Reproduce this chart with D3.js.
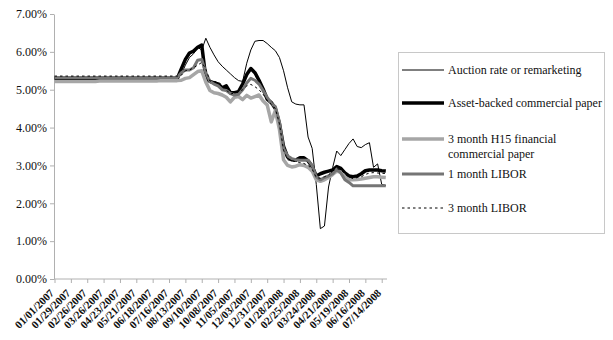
<!DOCTYPE html>
<html><head><meta charset="utf-8">
<script src="https://cdn.jsdelivr.net/npm/d3@7"></script>
<style>html,body{margin:0;padding:0;background:#fff;} svg{display:block;font-family:"Liberation Serif","Times New Roman",serif;}</style>
</head><body><svg id="c" width="613" height="340"></svg>
<script>
const dates = [
"01/01/2007","01/08/2007","01/15/2007","01/22/2007","01/29/2007","02/05/2007","02/12/2007","02/19/2007","02/26/2007","03/05/2007",
"03/12/2007","03/19/2007","03/26/2007","04/02/2007","04/09/2007","04/16/2007","04/23/2007","04/30/2007","05/07/2007","05/14/2007",
"05/21/2007","05/28/2007","06/04/2007","06/11/2007","06/18/2007","06/25/2007","07/02/2007","07/09/2007","07/16/2007","07/23/2007",
"07/30/2007","08/06/2007","08/13/2007","08/20/2007","08/27/2007","09/03/2007","09/10/2007","09/17/2007","09/24/2007","10/01/2007",
"10/08/2007","10/15/2007","10/22/2007","10/29/2007","11/05/2007","11/12/2007","11/19/2007","11/26/2007","12/03/2007","12/10/2007",
"12/17/2007","12/24/2007","12/31/2007","01/07/2008","01/14/2008","01/21/2008","01/28/2008","02/04/2008","02/11/2008","02/18/2008",
"02/25/2008","03/03/2008","03/10/2008","03/17/2008","03/24/2008","03/31/2008","04/07/2008","04/14/2008","04/21/2008","04/28/2008",
"05/05/2008","05/12/2008","05/19/2008","05/26/2008","06/02/2008","06/09/2008","06/16/2008","06/23/2008","06/30/2008","07/07/2008",
"07/14/2008","07/21/2008"];
const tickLabels = ["01/01/2007","01/29/2007","02/26/2007","03/26/2007","04/23/2007","05/21/2007","06/18/2007","07/16/2007","08/13/2007","09/10/2007","10/08/2007","11/05/2007","12/03/2007","12/31/2007","01/28/2008","02/25/2008","03/24/2008","04/21/2008","05/19/2008","06/16/2008","07/14/2008"];
const yTicks = [0,1,2,3,4,5,6,7];

const auction = [
5.31,5.31,5.31,5.31,5.31,5.31,5.31,5.31,5.31,5.31,
5.31,5.31,5.31,5.31,5.31,5.31,5.31,5.31,5.31,5.31,
5.31,5.31,5.31,5.31,5.31,5.31,5.31,5.31,5.31,5.31,
5.31,5.40,5.65,5.85,5.95,6.12,6.05,6.36,6.12,5.92,
5.74,5.62,5.52,5.42,5.32,5.24,5.22,5.70,6.05,6.28,
6.30,6.30,6.22,6.12,6.03,5.85,5.50,5.05,4.68,4.62,
4.60,4.60,3.75,3.45,2.50,1.33,1.40,2.43,2.94,3.38,
3.26,3.42,3.58,3.70,3.50,3.47,3.55,3.60,2.95,3.04,
2.50,2.47];
const abcp = [
5.30,5.30,5.29,5.28,5.27,5.26,5.26,5.26,5.26,5.26,
5.26,5.26,5.26,5.26,5.26,5.26,5.26,5.26,5.26,5.26,
5.26,5.26,5.27,5.28,5.29,5.29,5.29,5.29,5.29,5.29,
5.29,5.55,5.80,5.97,6.02,6.12,6.18,5.30,5.22,5.18,
5.15,5.05,5.10,4.92,4.92,4.95,5.15,5.40,5.56,5.45,
5.25,5.02,4.75,4.66,4.50,4.10,3.50,3.22,3.15,3.14,
3.20,3.20,3.12,2.97,2.72,2.78,2.82,2.85,2.88,2.97,
2.92,2.80,2.72,2.70,2.72,2.78,2.86,2.88,2.88,2.88,
2.86,2.85];
const h15 = [
5.22,5.22,5.22,5.22,5.22,5.22,5.22,5.22,5.22,5.22,
5.22,5.23,5.23,5.23,5.23,5.23,5.23,5.23,5.23,5.23,
5.23,5.23,5.23,5.23,5.23,5.23,5.24,5.24,5.24,5.24,
5.24,5.25,5.30,5.32,5.40,5.48,5.50,5.20,4.98,4.92,
4.90,4.86,4.80,4.68,4.80,4.82,4.74,4.85,4.78,4.82,
4.86,4.70,4.60,4.15,4.45,3.95,3.15,3.00,2.96,2.98,
3.02,3.00,2.95,2.85,2.62,2.58,2.62,2.68,2.76,2.85,
2.82,2.70,2.62,2.62,2.63,2.64,2.66,2.68,2.70,2.70,
2.69,2.68];
const libor1m = [
5.32,5.32,5.32,5.32,5.32,5.32,5.32,5.32,5.32,5.32,
5.32,5.32,5.32,5.32,5.32,5.32,5.32,5.32,5.32,5.32,
5.32,5.32,5.32,5.32,5.32,5.32,5.32,5.32,5.32,5.32,
5.32,5.45,5.52,5.52,5.58,5.78,5.80,5.45,5.22,5.15,
5.10,5.00,4.98,4.90,4.86,4.88,5.00,5.18,5.30,5.25,
5.15,4.98,4.80,4.64,4.55,4.15,3.45,3.25,3.18,3.15,
3.14,3.14,3.14,3.00,2.70,2.62,2.68,2.72,2.78,2.90,
2.80,2.62,2.55,2.46,2.46,2.46,2.46,2.46,2.46,2.46,
2.46,2.46];
const libor3m = [
5.36,5.36,5.36,5.36,5.36,5.36,5.36,5.36,5.36,5.36,
5.36,5.36,5.36,5.36,5.36,5.36,5.36,5.36,5.36,5.36,
5.36,5.36,5.36,5.36,5.36,5.36,5.36,5.36,5.36,5.36,
5.36,5.38,5.50,5.52,5.58,5.65,5.72,5.55,5.23,5.22,
5.20,5.12,5.00,4.88,4.92,4.95,5.00,5.10,5.14,5.08,
5.00,4.88,4.72,4.62,4.50,4.10,3.40,3.15,3.12,3.10,
3.08,3.05,3.00,2.90,2.68,2.66,2.70,2.75,2.85,2.92,
2.88,2.78,2.70,2.65,2.68,2.70,2.76,2.80,2.81,2.80,
2.79,2.79];

const seriesNames = ["Auction rate or remarketing","Asset-backed commercial paper","3 month H15 financial commercial paper","1 month LIBOR","3 month LIBOR"];
const seriesValues = [auction, abcp, h15, libor1m, libor3m];
const styles = [
  {color:"#000", width:1, dash:null},
  {color:"#000", width:3.5, dash:null},
  {color:"#a6a6a6", width:3.5, dash:null},
  {color:"#757575", width:3, dash:null},
  {color:"#000", width:1, dash:"2.5,3"}
];

const svg = d3.select("#c");
svg.append("rect").attr("width",613).attr("height",340).attr("fill","#fff");

const x = d3.scalePoint().domain(dates).range([54.5, 385.8]);
const y = d3.scaleLinear().domain([0,7]).range([279, 14]);

// y axis
const ya = svg.append("g").attr("transform","translate(54,0)")
  .call(d3.axisLeft(y).tickValues(yTicks).tickFormat(d => d.toFixed(2)+"%").tickSize(4).tickSizeOuter(0).tickPadding(3));
ya.select(".domain").attr("stroke","#b0b0b0");
ya.selectAll(".tick line").attr("stroke","#b0b0b0");
ya.selectAll("text").attr("font-size","12px").attr("font-family","Liberation Serif").attr("fill","#111");

// x axis
const xa = svg.append("g").attr("transform","translate(0,279)")
  .call(d3.axisBottom(x).tickValues(tickLabels).tickSize(4).tickSizeOuter(0));
xa.select(".domain").remove();
xa.append("line").attr("x1",54).attr("x2",387).attr("y1",0).attr("y2",0).attr("stroke","#b0b0b0");
xa.selectAll(".tick line").attr("stroke","#b0b0b0");
xa.selectAll("text")
  .attr("font-size","11px").attr("font-weight","bold").attr("font-family","Liberation Serif").attr("fill","#111")
  .attr("text-anchor","end").attr("x",0).attr("y",0).attr("dy","0.35em")
  .attr("transform","translate(-3,12) rotate(-45)");

// lines
const line = d3.line().x((d,i) => x(dates[i])).y(d => y(d));
seriesValues.forEach((vals, k) => {
  const p = svg.append("path").datum(vals).attr("d", line)
    .attr("fill","none").attr("stroke",styles[k].color).attr("stroke-width",styles[k].width)
    .attr("stroke-linejoin","round");
  if (styles[k].dash) p.attr("stroke-dasharray", styles[k].dash);
});

// legend
const lg = svg.append("g");
lg.append("rect").attr("x",398.5).attr("y",52.5).attr("width",206).attr("height",181)
  .attr("fill","#fff").attr("stroke","#c8c8c8");
const legendRows = [
  {lines:["Auction rate or remarketing"], y:70},
  {lines:["Asset-backed commercial paper"], y:103},
  {lines:["3 month H15 financial","commercial paper"], y:139},
  {lines:["1 month LIBOR"], y:174},
  {lines:["3 month LIBOR"], y:208}
];
legendRows.forEach((r,k) => {
  const l = lg.append("line").attr("x1",402).attr("x2",444).attr("y1",r.y).attr("y2",r.y)
    .attr("stroke",styles[k].color).attr("stroke-width",styles[k].width);
  if (styles[k].dash) l.attr("stroke-dasharray", styles[k].dash);
  r.lines.forEach((t,j) => {
    lg.append("text").attr("x",448).attr("y",r.y + j*14.5).attr("dy","0.35em")
      .attr("font-size","12px").attr("font-family","Liberation Serif").attr("fill","#111").text(t);
  });
});
</script>
</body></html>
